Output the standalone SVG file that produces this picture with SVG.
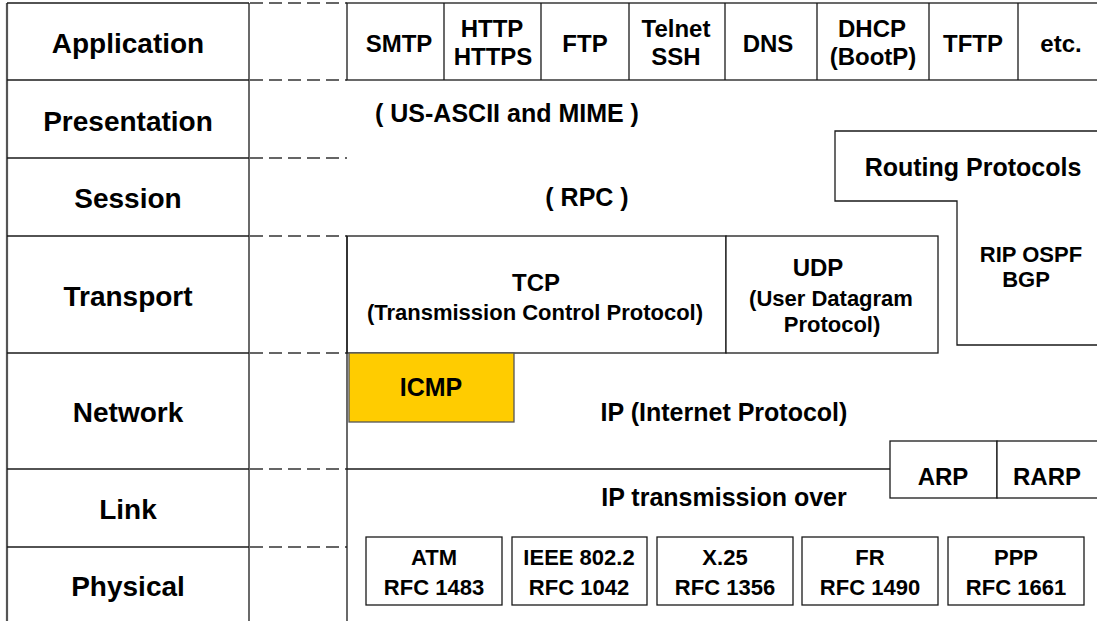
<svg xmlns="http://www.w3.org/2000/svg" width="1097" height="621" viewBox="0 0 1097 621">
<style>
text{font-family:"Liberation Sans",Arial,sans-serif;font-weight:bold;fill:#000;text-anchor:middle}
.box{fill:#fff;stroke:#1a1a1a;stroke-width:1.3}
.ln{stroke:#1a1a1a;stroke-width:1.3;fill:none}
.dash{stroke:#333;stroke-width:1.6;stroke-dasharray:13 6;fill:none}
.lay{font-size:28px}
.m{font-size:25px}
.a{font-size:24px}
.s{font-size:22px}
.p{font-size:22px}
</style>
<rect x="0" y="0" width="1097" height="621" fill="#fff"/>

<g id="osi-layers">
  <line class="ln" x1="7" y1="3" x2="7" y2="621" style="stroke:#555;stroke-width:2.2"/>
  <line class="ln" x1="249" y1="3" x2="249" y2="621"/>
  <line class="ln" x1="7" y1="3" x2="249" y2="3"/>
  <line class="ln" x1="7" y1="80" x2="249" y2="80"/>
  <line class="ln" x1="7" y1="158" x2="249" y2="158"/>
  <line class="ln" x1="7" y1="236" x2="249" y2="236"/>
  <line class="ln" x1="7" y1="353" x2="249" y2="353"/>
  <line class="ln" x1="7" y1="469" x2="249" y2="469"/>
  <line class="ln" x1="7" y1="547" x2="249" y2="547"/>
  <text class="lay" x="128" y="53">Application</text>
  <text class="lay" x="128" y="131">Presentation</text>
  <text class="lay" x="128" y="208">Session</text>
  <text class="lay" x="128" y="306">Transport</text>
  <text class="lay" x="128" y="422">Network</text>
  <text class="lay" x="128" y="519">Link</text>
  <text class="lay" x="128" y="596">Physical</text>
</g>

<g id="connectors">
  <line class="dash" x1="250" y1="3" x2="347" y2="3"/>
  <line class="dash" x1="250" y1="80" x2="347" y2="80"/>
  <line class="dash" x1="250" y1="158" x2="347" y2="158"/>
  <line class="dash" x1="250" y1="236" x2="347" y2="236"/>
  <line class="dash" x1="250" y1="353" x2="347" y2="353"/>
  <line class="dash" x1="250" y1="469" x2="347" y2="469"/>
  <line class="dash" x1="250" y1="547" x2="347" y2="547"/>
</g>

<g id="application">
  <rect class="box" x="347" y="3" width="760" height="77"/>
  <line class="ln" x1="444" y1="3" x2="444" y2="80"/>
  <line class="ln" x1="541" y1="3" x2="541" y2="80"/>
  <line class="ln" x1="629" y1="3" x2="629" y2="80"/>
  <line class="ln" x1="725" y1="3" x2="725" y2="80"/>
  <line class="ln" x1="817" y1="3" x2="817" y2="80"/>
  <line class="ln" x1="929" y1="3" x2="929" y2="80"/>
  <line class="ln" x1="1018" y1="3" x2="1018" y2="80"/>
  <text class="a" x="399" y="52">SMTP</text>
  <text class="a" x="492" y="37">HTTP</text>
  <text class="a" x="493" y="65">HTTPS</text>
  <text class="a" x="585" y="52">FTP</text>
  <text class="a" x="676" y="37">Telnet</text>
  <text class="a" x="676" y="65">SSH</text>
  <text class="a" x="768" y="52">DNS</text>
  <text class="a" x="872" y="37">DHCP</text>
  <text class="a" x="873" y="65">(BootP)</text>
  <text class="a" x="973" y="52">TFTP</text>
  <text class="a" x="1061" y="52">etc.</text>
</g>

<g id="presentation">
  <text class="m" x="507" y="122">( US-ASCII and MIME )</text>
</g>

<g id="session">
  <text class="m" x="587" y="206">( RPC )</text>
</g>

<g id="routing">
  <path class="box" d="M835 131 H1105 V345 H957 V201 H835 Z"/>
  <text class="m" x="973" y="176">Routing Protocols</text>
  <text class="s" x="1031" y="262">RIP OSPF</text>
  <text class="s" x="1026" y="287">BGP</text>
</g>

<g id="tcp">
  <rect class="box" x="347" y="236" width="379" height="117"/>
  <text class="a" x="536" y="291">TCP</text>
  <text class="s" x="535" y="320">(Transmission Control Protocol)</text>
</g>

<g id="udp">
  <rect class="box" x="726" y="236" width="212" height="117"/>
  <text class="a" x="818" y="276">UDP</text>
  <text class="s" x="831" y="306">(User Datagram</text>
  <text class="s" x="832" y="332">Protocol)</text>
</g>

<line class="ln" x1="347" y1="236" x2="347" y2="621"/>

<g id="icmp">
  <rect x="349" y="353" width="165" height="69" fill="#FFCC00" stroke="#555" stroke-width="1.3"/>
  <text class="m" x="431" y="396">ICMP</text>
</g>

<g id="ip">
  <line class="ln" x1="347" y1="469" x2="890" y2="469"/>
  <text class="m" x="724" y="421">IP (Internet Protocol)</text>
</g>

<g id="arp">
  <rect class="box" x="890" y="441" width="107" height="57"/>
  <text class="a" x="943" y="485">ARP</text>
</g>
<g id="rarp">
  <rect class="box" x="997" y="441" width="110" height="57"/>
  <text class="a" x="1047" y="485">RARP</text>
</g>

<g id="link">
  <text class="m" x="724" y="506">IP transmission over</text>
</g>

<g id="atm">
  <rect class="box" x="366" y="537" width="136" height="68"/>
  <text class="p" x="434" y="565">ATM</text>
  <text class="p" x="434" y="595">RFC 1483</text>
</g>
<g id="ieee">
  <rect class="box" x="512" y="537" width="135" height="68"/>
  <text class="p" x="579" y="565">IEEE 802.2</text>
  <text class="p" x="579" y="595">RFC 1042</text>
</g>
<g id="x25">
  <rect class="box" x="657" y="537" width="136" height="68"/>
  <text class="p" x="725" y="565">X.25</text>
  <text class="p" x="725" y="595">RFC 1356</text>
</g>
<g id="fr">
  <rect class="box" x="802" y="537" width="136" height="68"/>
  <text class="p" x="870" y="565">FR</text>
  <text class="p" x="870" y="595">RFC 1490</text>
</g>
<g id="ppp">
  <rect class="box" x="948" y="537" width="136" height="68"/>
  <text class="p" x="1016" y="565">PPP</text>
  <text class="p" x="1016" y="595">RFC 1661</text>
</g>
</svg>
